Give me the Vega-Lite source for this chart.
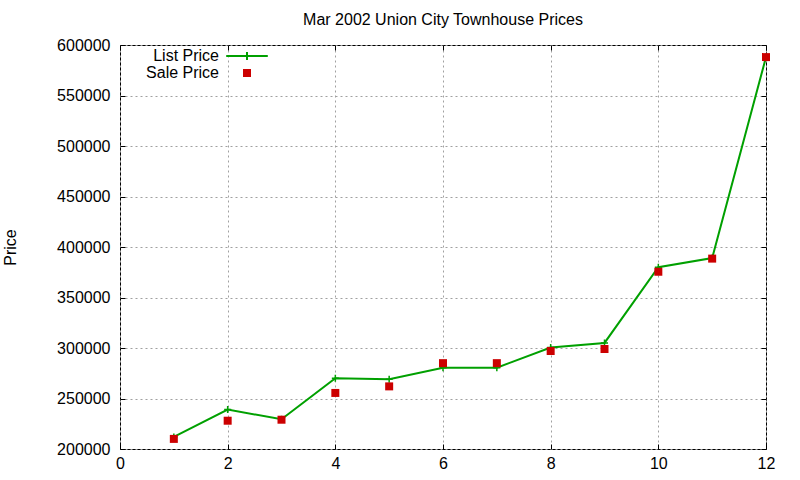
{
  "$schema": "https://vega.github.io/schema/vega-lite/v6.json",
  "description": "Union City townhouse list vs sale prices, Mar 2002.",
  "autosize": "none",
  "width": 646,
  "height": 404,
  "padding": {"left": 120, "top": 45, "right": 34, "bottom": 31},
  "config": {
    "font": "Liberation Sans",
    "view": {"stroke": "black", "strokeWidth": 1},
    "axis": {
      "labelFontSize": 16,
      "labelColor": "black",
      "labelFlush": false,
      "labelOverlap": false,
      "titleFontSize": 16,
      "titleFontWeight": "normal",
      "titleColor": "black",
      "domainColor": "black",
      "tickColor": "black",
      "gridColor": "#a0a0a0",
      "gridDash": [2, 3],
      "gridOpacity": 1
    }
  },
  "title": {
    "text": "Mar 2002 Union City Townhouse Prices",
    "fontSize": 16,
    "fontWeight": "normal",
    "color": "black",
    "offset": 9
  },
  "data": {
    "values": [
      {"house": 1, "price": 212000, "series": "List Price"},
      {"house": 2, "price": 239000, "series": "List Price"},
      {"house": 3, "price": 229500, "series": "List Price"},
      {"house": 4, "price": 270000, "series": "List Price"},
      {"house": 5, "price": 269000, "series": "List Price"},
      {"house": 6, "price": 280500, "series": "List Price"},
      {"house": 7, "price": 280500, "series": "List Price"},
      {"house": 8, "price": 300500, "series": "List Price"},
      {"house": 9, "price": 305000, "series": "List Price"},
      {"house": 10, "price": 380000, "series": "List Price"},
      {"house": 11, "price": 389000, "series": "List Price"},
      {"house": 12, "price": 588000, "series": "List Price"},
      {"house": 1, "price": 210000, "series": "Sale Price"},
      {"house": 2, "price": 228000, "series": "Sale Price"},
      {"house": 3, "price": 229000, "series": "Sale Price"},
      {"house": 4, "price": 255500, "series": "Sale Price"},
      {"house": 5, "price": 262000, "series": "Sale Price"},
      {"house": 6, "price": 285000, "series": "Sale Price"},
      {"house": 7, "price": 285000, "series": "Sale Price"},
      {"house": 8, "price": 297000, "series": "Sale Price"},
      {"house": 9, "price": 299000, "series": "Sale Price"},
      {"house": 10, "price": 375500, "series": "Sale Price"},
      {"house": 11, "price": 388500, "series": "Sale Price"},
      {"house": 12, "price": 588000, "series": "Sale Price"}
    ]
  },
  "resolve": {"axis": {"x": "independent", "y": "independent"}},
  "layer": [
    {
      "transform": [{"filter": "datum.series === 'List Price'"}],
      "mark": {"type": "line", "color": "#00a000", "strokeWidth": 2},
      "encoding": {
        "x": {
          "field": "house", "type": "quantitative",
          "scale": {"domain": [0, 12], "nice": false},
          "axis": {"orient": "bottom", "title": null, "values": [0, 2, 4, 6, 8, 10, 12],
                   "grid": true, "tickSize": -5, "labelPadding": 11, "domain": false}
        },
        "y": {
          "field": "price", "type": "quantitative",
          "scale": {"domain": [200000, 600000], "nice": false, "zero": false},
          "axis": {"orient": "left", "title": "Price", "format": "d",
                   "values": [200000, 250000, 300000, 350000, 400000, 450000, 500000, 550000, 600000],
                   "grid": true, "tickSize": -5, "labelPadding": 15, "titlePadding": 38, "domain": false}
        }
      }
    },
    {
      "transform": [{"filter": "datum.series === 'List Price'"}],
      "mark": {"type": "point", "shape": "M-1,0L1,0M0,-1L0,1", "size": 49,
               "filled": false, "color": "#00a000", "strokeWidth": 1.5, "opacity": 1},
      "encoding": {
        "x": {
          "field": "house", "type": "quantitative",
          "axis": {"orient": "top", "title": null, "labels": false, "values": [0, 2, 4, 6, 8, 10, 12],
                   "grid": false, "tickSize": -5, "domain": false}
        },
        "y": {
          "field": "price", "type": "quantitative",
          "axis": {"orient": "right", "title": null, "labels": false,
                   "values": [200000, 250000, 300000, 350000, 400000, 450000, 500000, 550000, 600000],
                   "grid": false, "tickSize": -5, "domain": false}
        }
      }
    },
    {
      "transform": [{"filter": "datum.series === 'Sale Price'"}],
      "mark": {"type": "point", "filled": true, "size": 256, "opacity": 1},
      "encoding": {
        "x": {"field": "house", "type": "quantitative", "axis": null},
        "y": {"field": "price", "type": "quantitative", "axis": null},
        "shape": {
          "field": "series", "type": "nominal",
          "scale": {
            "domain": ["List Price", "Sale Price"],
            "range": [
              "M-2.6,-0.125H-0.125V-0.5H0.125V-0.125H2.6V0.125H0.125V0.5H-0.125V0.125H-2.6Z",
              "M-0.5,-0.5H0.5V0.5H-0.5Z"
            ]
          },
          "legend": null
        },
        "color": {
          "field": "series", "type": "nominal",
          "scale": {"domain": ["List Price", "Sale Price"], "range": ["#00a000", "#cc0000"]},
          "legend": {
            "title": null,
            "orient": "none",
            "legendX": 118,
            "legendY": 2,
            "padding": 0,
            "symbolSize": 256,
            "rowPadding": 0,
            "labelFontSize": 16,
            "labelColor": "black",
            "labelAlign": "right",
            "labelOffset": -37
          }
        }
      }
    }
  ]
}
